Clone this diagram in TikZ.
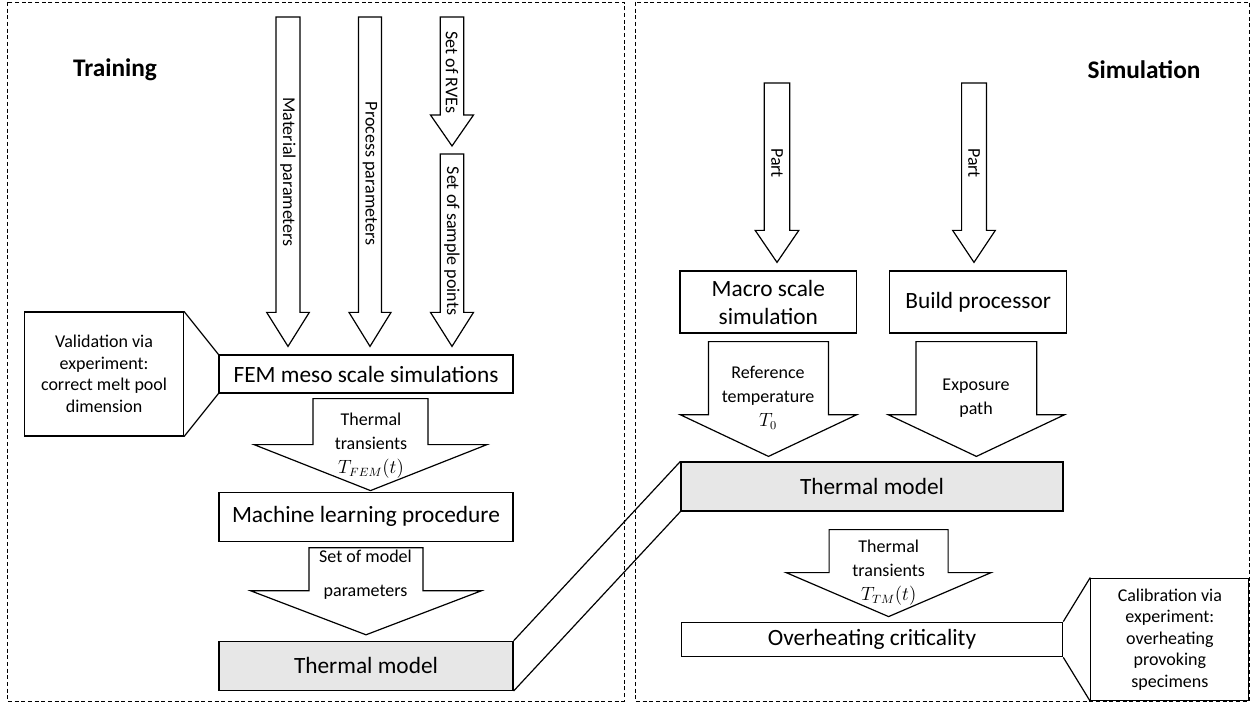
\documentclass[tikz,border=0pt]{standalone}
\usepackage{fontspec}
\setmainfont{Carlito}
\usetikzlibrary{calc, positioning}
\definecolor{modelgrey}{RGB}{231,231,231}
\tikzset{
  box/.style = {draw, line width = 0.9pt, inner sep = 0pt, align = center, font = \fontsize{17.5}{21}\selectfont},
  callout/.style = {draw, line width = 0.9pt, inner sep = 0pt, align = center, font = \fontsize{13.5}{16.1}\selectfont},
  arrowtext/.style = {inner sep = 0pt, align = center, font = \fontsize{13.5}{18}\selectfont},
  blockline/.style = {draw, line width = 0.9pt, fill = white},
  panelframe/.style = {draw, line width = 0.7pt, dash pattern = on 3pt off 2pt},
  heading/.style = {inner sep = 0pt, font = \fontsize{19}{23}\selectfont\bfseries}
}
% #1 start, #2 tip, #3 half shaft, #4 half head, #5 head length
\newcommand{\blockarrow}[5]{%
  \draw[blockline] ($(#1)+(-#3,0)$) -- ($(#2)+(-#3,-#5)$) -- ($(#2)+(-#4,-#5)$) -- (#2)
    -- ($(#2)+(#4,-#5)$) -- ($(#2)+(#3,-#5)$) -- ($(#1)+(#3,0)$) -- cycle;
}

\begin{document}
\begin{tikzpicture}[x = 0.75pt, y = -0.75pt]
\useasboundingbox (0,0) rectangle (1253,702);

\draw[panelframe] (7,2) rectangle (624,701);
\draw[panelframe] (635,2) rectangle (1249,701);

\node (traininghead) [heading] at (115,70) {Training};
\node (simhead) [heading] at (1144,70) {Simulation};

% training side
\node (fem) [box, minimum width = 220.5pt, minimum height = 28.5pt] at (366,374) {FEM meso scale simulations};
\node (mlp) [box, minimum width = 220.5pt, minimum height = 36.75pt, below = 73.5pt of fem] {Machine learning procedure};
\node (tmleft) [box, fill = modelgrey, minimum width = 220.5pt, minimum height = 36.75pt, below = 74.25pt of mlp] {Thermal model};
\node (valid) [callout, minimum width = 119pt, minimum height = 93pt, left = 25.8pt of fem] {Validation via\\experiment:\\correct melt pool\\dimension};

\draw[line width = 0.9pt] (valid.north east) -- (fem.north west);
\draw[line width = 0.9pt] (valid.south east) -- (fem.south west);

\coordinate (matin) at (288,17);
\coordinate (mattip) at ($(matin |- fem.north)+(0,-8)$);
\coordinate (procin) at (370,17);
\coordinate (proctip) at ($(procin |- fem.north)+(0,-8)$);
\coordinate (rvein) at (452,17);
\coordinate (samplein) at (452,154);
\coordinate (rvetip) at ($(samplein)+(0,-8)$);
\coordinate (sampletip) at ($(samplein |- fem.north)+(0,-8)$);
\coordinate (femout) at ($(370.5,0 |- fem.south)+(0,5)$);
\coordinate (femtip) at ($(femout |- mlp.north)+(0,-1)$);
\coordinate (mlpout) at ($(366,0 |- mlp.south)+(0,6)$);
\coordinate (mlptip) at ($(mlpout |- tmleft.north)+(0,-6)$);

\blockarrow{matin}{mattip}{12}{21.3}{34}
\blockarrow{procin}{proctip}{11.5}{21}{34}
\blockarrow{rvein}{rvetip}{11.8}{21.5}{31}
\blockarrow{samplein}{sampletip}{11.8}{21.5}{34}
\blockarrow{femout}{femtip}{57.5}{116.5}{46}
\blockarrow{mlpout}{mlptip}{57}{115.3}{44}

\node (matlabel) [arrowtext, rotate = -90] at (288,172) {Material parameters};
\node (proclabel) [arrowtext, rotate = -90] at (370,173.5) {Process parameters};
\node (rvelabel) [arrowtext, rotate = -90] at (452,72.5) {Set of RVEs};
\node (samplelabel) [arrowtext, rotate = -90] at (452,241) {Set of sample points};
\node (femlabel) [arrowtext] at (371,445.5) {Thermal\\transients\\$T_{FEM}(t)$};
\node (mlplabel) [arrowtext, font = \fontsize{13.5}{25.5}\selectfont] at (365.5,575) {Set of model\\parameters};

% simulation side
\node (macro) [box, minimum width = 132.5pt, minimum height = 46.5pt] at (768.3,302) {Macro scale\\simulation};
\node (build) [box, minimum width = 132.5pt, minimum height = 46.5pt, right = 24pt of macro] {Build processor};
\node (tmright) [box, fill = modelgrey, minimum width = 286.5pt, minimum height = 36.75pt] at (872,486.5) {Thermal model};
\node (overheat) [box, minimum width = 286pt, minimum height = 25.9pt, below = 82.5pt of tmright] {Overheating criticality};
\node (calib) [callout, minimum width = 118.5pt, minimum height = 92pt, right = 20.25pt of overheat] {Calibration via\\experiment:\\overheating\\provoking\\specimens};

\draw[line width = 0.9pt] (tmleft.north east) -- (tmright.north west);
\draw[line width = 0.9pt] (tmleft.south east) -- (tmright.south west);
\draw[line width = 0.9pt] (overheat.north east) -- (calib.north west);
\draw[line width = 0.9pt] (overheat.south east) -- (calib.south west);

\coordinate (partin) at (777,83);
\coordinate (parttip) at ($(partin |- macro.north)+(0,-8)$);
\coordinate (partbin) at (974,83);
\coordinate (partbtip) at ($(partbin |- build.north)+(0,-8)$);
\coordinate (macroout) at ($(768.5,0 |- macro.south)+(0,8)$);
\coordinate (macrotip) at ($(macroout |- tmright.north)+(0,-5)$);
\coordinate (buildout) at ($(976.4,0 |- build.south)+(0,8)$);
\coordinate (buildtip) at ($(buildout |- tmright.north)+(0,-5)$);
\coordinate (tmout) at ($(888.6,0 |- tmright.south)+(0,18)$);
\coordinate (tmtip) at ($(tmout |- overheat.north)+(0,-5)$);

\blockarrow{partin}{parttip}{12.8}{21.8}{32}
\blockarrow{partbin}{partbtip}{12.4}{21.3}{32}
\blockarrow{macroout}{macrotip}{60}{88.3}{41.7}
\blockarrow{buildout}{buildtip}{60.4}{88.2}{41.7}
\blockarrow{tmout}{tmtip}{59.5}{102.5}{44}

\node (partlabel) [arrowtext, rotate = -90] at (777,163) {Part};
\node (partblabel) [arrowtext, rotate = -90] at (974,163) {Part};
\node (macrolabel) [arrowtext] at (768,398) {Reference\\temperature\\$T_0$};
\node (buildlabel) [arrowtext] at (976,398) {Exposure\\path};
\node (tmlabel) [arrowtext] at (888.7,573) {Thermal\\transients\\$T_{TM}(t)$};

\end{tikzpicture}
\end{document}
